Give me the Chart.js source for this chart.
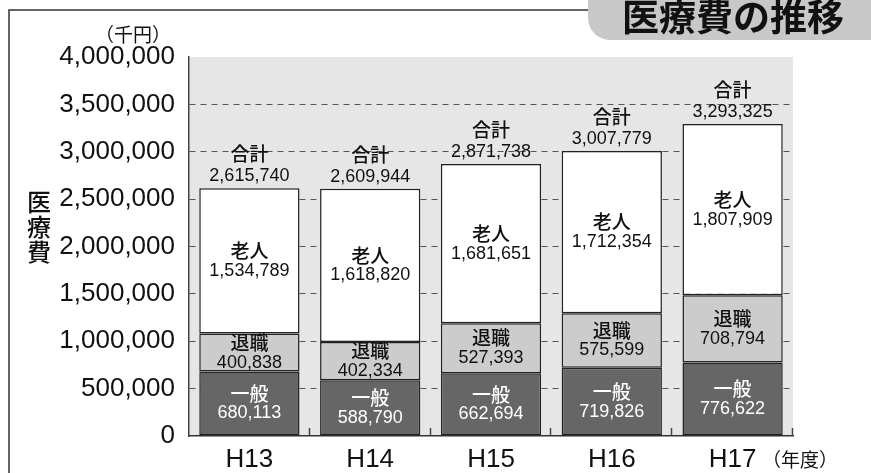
<!DOCTYPE html>
<html>
<head>
<meta charset="utf-8">
<script src="https://cdn.jsdelivr.net/npm/chart.js@4"></script>
<style>
  html, body { margin: 0; padding: 0; background: #fff; }
  #wrap { width: 871px; height: 473px; position: relative; }
</style>
</head>
<body>
<div id="wrap"><canvas id="costChart" width="871" height="473"></canvas></div>
<script>
// data (千円)
const years    = ['H13', 'H14', 'H15', 'H16', 'H17'];
const ippan    = [680113, 588790, 662694, 719826, 776622];   // 一般
const taishoku = [400838, 402334, 527393, 575599, 708794];   // 退職
const roujin   = [1534789, 1618820, 1681651, 1712354, 1807909]; // 老人
const totals   = [2615740, 2609944, 2871738, 3007779, 3293325]; // 合計
const yTicks   = [0, 500000, 1000000, 1500000, 2000000, 2500000, 3000000, 3500000, 4000000];

const FONT = '"Liberation Sans", "Noto Sans CJK JP", sans-serif';
const JP   = '"Noto Sans CJK JP", "Liberation Sans", sans-serif';
const fmt  = v => v.toLocaleString('en-US');

// background, frame and plot area fill
const backdrop = {
  id: 'backdrop',
  beforeDraw(chart) {
    const { ctx, chartArea: a } = chart;
    ctx.save();
    ctx.fillStyle = '#fff';
    ctx.fillRect(0, 0, chart.width, chart.height);
    ctx.fillStyle = '#e6e6e6';
    ctx.fillRect(a.left, a.top, a.right - a.left, a.bottom - a.top);
    // outer frame
    ctx.strokeStyle = '#333';
    ctx.lineWidth = 1.5;
    ctx.beginPath();
    ctx.moveTo(9, chart.height);
    ctx.lineTo(9, 10);
    ctx.lineTo(600, 10);
    ctx.stroke();
    ctx.restore();
  }
};

// labels inside segments, totals, small ticks, titles
const annotations = {
  id: 'annotations',
  afterDatasetsDraw(chart) {
    const { ctx, chartArea: a } = chart;
    const names  = ['一般', '退職', '老人'];
    const colors = ['#fff', '#111', '#111'];
    const values = [ippan, taishoku, roujin];
    ctx.save();
    ctx.textAlign = 'center';
    ctx.textBaseline = 'middle';

    values.forEach((vals, d) => {
      const meta = chart.getDatasetMeta(d);
      meta.data.forEach((bar, i) => {
        const cy = (bar.y + bar.base) / 2;
        ctx.fillStyle = colors[d];
        ctx.font = '500 19px ' + JP;
        ctx.fillText(names[d], bar.x, cy - 10);
        ctx.font = '18px ' + FONT;
        ctx.fillText(fmt(vals[i]), bar.x, cy + 10);
      });
    });

    // totals above bars
    const top = chart.getDatasetMeta(2);
    top.data.forEach((bar, i) => {
      ctx.fillStyle = '#111';
      ctx.font = '18px ' + FONT;
      ctx.fillText(fmt(totals[i]), bar.x, bar.y - 12);
      ctx.font = '500 19px ' + JP;
      ctx.fillText('合計', bar.x, bar.y - 34);
    });

    // short inward ticks at category boundaries
    const step = (a.right - a.left) / years.length;
    ctx.strokeStyle = '#444';
    ctx.lineWidth = 1.5;
    for (let i = 1; i <= years.length; i++) {
      const x = Math.round(a.left + step * i) - 0.5;
      ctx.beginPath();
      ctx.moveTo(x, a.bottom);
      ctx.lineTo(x, a.bottom - 8);
      ctx.stroke();
    }

    // unit labels
    ctx.fillStyle = '#111';
    ctx.font = '19px ' + JP;
    ctx.fillText('（千円）', 133, 35);
    ctx.fillText('（年度）', 800, 460);

    // vertical axis title
    ctx.font = '500 24px ' + JP;
    ['医', '療', '費'].forEach((c, i) => ctx.fillText(c, 39, 202 + i * 25));

    // title pill
    ctx.fillStyle = '#c8c8c8';
    ctx.beginPath();
    ctx.roundRect(588, -25, 320, 65, 22);
    ctx.fill();
    ctx.fillStyle = '#111';
    ctx.font = 'bold 37px ' + JP;
    ctx.fillText('医療費の推移', 733, 17);
    ctx.restore();
  }
};

new Chart(document.getElementById('costChart'), {
  type: 'bar',
  data: {
    labels: years,
    datasets: [
      { label: '一般', data: ippan,    backgroundColor: '#666666' },
      { label: '退職', data: taishoku, backgroundColor: '#cccccc' },
      { label: '老人', data: roujin,   backgroundColor: '#ffffff' }
    ].map(ds => Object.assign(ds, {
      borderColor: '#222',
      borderWidth: 1.5,
      borderSkipped: false,
      barPercentage: 0.83,
      categoryPercentage: 1.0
    }))
  },
  options: {
    responsive: false,
    animation: false,
    events: [],
    layout: { padding: { left: 0, right: 78, top: 57, bottom: 0 } },
    plugins: {
      legend: { display: false },
      tooltip: { enabled: false }
    },
    scales: {
      x: {
        stacked: true,
        afterFit: s => { s.height = 37; },
        grid: { display: false, drawTicks: false },
        border: { display: true, color: '#333', width: 1.5 },
        ticks: { color: '#111', font: { family: FONT, size: 26 }, padding: 8 }
      },
      y: {
        stacked: true,
        min: 0,
        max: 4000000,
        afterFit: s => { s.width = 189; },
        afterBuildTicks: s => { s.ticks = yTicks.map(v => ({ value: v })); },
        grid: {
          drawTicks: false,
          lineWidth: 1,
          color: c => (c.tick && (c.tick.value === 0 || c.tick.value === 4000000)) ? 'rgba(0,0,0,0)' : '#555'
        },
        border: { display: true, color: '#444', width: 1.5, dash: [6, 5] },
        ticks: {
          color: '#111',
          padding: 14,
          font: { family: FONT, size: 26 },
          callback: v => fmt(v)
        }
      }
    }
  },
  plugins: [backdrop, annotations]
});
</script>
</body>
</html>
